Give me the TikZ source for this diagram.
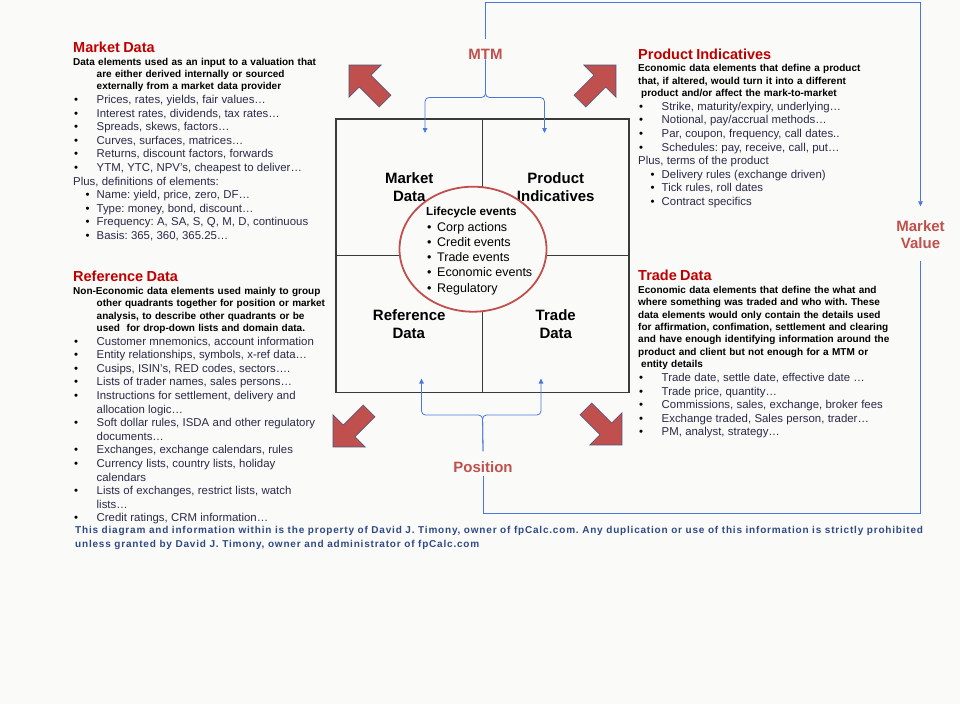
\documentclass[tikz,border=0pt]{standalone}
\usepackage{fontspec}
\setmainfont{Liberation Sans}
\usetikzlibrary{shapes.geometric,shapes.arrows,arrows.meta}

\definecolor{pagebg}{HTML}{FAFAF8}
\definecolor{headred}{HTML}{C00000}
\definecolor{softred}{HTML}{C0504D}
\definecolor{linkblue}{HTML}{4A78E0}
\definecolor{itemink}{HTML}{2A2A48}
\definecolor{noteblue}{HTML}{2E4A86}
\definecolor{gridgray}{HTML}{3A3A3A}
\definecolor{edgeblue}{HTML}{46557F}

\setlength{\parindent}{0pt}
\setlength{\parskip}{0pt}
\frenchspacing

% text helpers for the four side blocks
\newcommand{\blockhead}[1]{{\fontsize{14.5}{16}\selectfont\bfseries\color{headred}#1\par}}
\newcommand{\descfont}{\fontsize{10}{12.45}\selectfont\bfseries}
\newcommand{\itemfont}{\fontsize{11.4}{13.6}\selectfont}
\newcommand{\bitem}[1]{\par\hangindent=23.5pt\hangafter=1\leavevmode
  \makebox[23.5pt][l]{\hspace{1pt}\textbullet}{\color{itemink}#1}}
\newcommand{\sitem}[1]{\par\hangindent=23.5pt\hangafter=1\leavevmode
  \makebox[23.5pt][l]{\hspace{12.5pt}\textbullet}{\color{itemink}#1}}
\newcommand{\pline}[1]{\par\leavevmode{\color{itemink}#1}}
\newcommand{\eitem}[1]{\par\leavevmode\makebox[11pt][l]{\hspace{1pt}\textbullet}#1}

\begin{document}
\begin{tikzpicture}[x=1pt, y=-1pt, >={Triangle[length=5pt,width=4.5pt]},
    block/.style={anchor=north west, inner sep=0pt, text width=320pt, align=left},
    cell/.style={draw=gridgray, line width=1.4pt, minimum width=146.5pt,
      minimum height=136.75pt, inner sep=0pt, align=center,
      font=\fontsize{15}{18}\selectfont\bfseries},
    flow/.style={draw=linkblue, line width=0.8pt},
    tag/.style={inner sep=0pt, text=softred, align=center,
      font=\fontsize{15}{17}\selectfont\bfseries},
    fat/.style={single arrow, fill=softred, draw=edgeblue, line width=0.6pt,
      minimum height=51pt, inner xsep=0pt, inner ysep=8pt,
      single arrow head extend=14.5pt}]
  \fill[pagebg] (0,0) rectangle (960,704);

  % four quadrants and the lifecycle ring
  \node[cell] (md) at (409.25,187.4) {Market\\Data};
  \node[cell] (pi) at (555.75,187.4) {Product\\Indicatives};
  \node[cell] (rd) at (409.25,324.1) {Reference\\Data\hspace*{1pt}};
  \node[cell] (td) at (555.75,324.1) {Trade\\Data};
  \node[ellipse, draw=softred, line width=1.8pt, fill=pagebg, minimum width=147pt,
    minimum height=125pt, inner sep=0pt] (cycle) at (473,249.2) {};
  \node[anchor=north west, inner sep=0pt, align=left, text width=120pt] (events) at (426,206.5)
    {{\fontsize{11.7}{14}\selectfont\bfseries Lifecycle events\par}\vspace{1pt}
     {\fontsize{12.5}{15.2}\selectfont
      \eitem{Corp actions}\eitem{Credit events}\eitem{Trade events}
      \eitem{Economic events}\eitem{Regulatory}\par}};

  % big red arrows
  \node[fat, rotate=135] (aul) at (370,86) {};
  \node[fat, rotate=45] (aur) at (595,86) {};
  \node[fat, rotate=225] (all) at (354,426) {};
  \node[fat, rotate=-45] (alr) at (601,424) {};

  % side texts
  \node[block] (mdtext) at (73,41.3) {%
    \blockhead{Market Data}\vspace{0.6pt}
    {\descfont\hangindent=23.5pt\hangafter=1 Data elements used as an input to a valuation that\newline
      are either derived internally or sourced\newline
      externally from a market data provider\par}
    {\itemfont
    \bitem{Prices, rates, yields, fair values…}
    \bitem{Interest rates, dividends, tax rates…}
    \bitem{Spreads, skews, factors…}
    \bitem{Curves, surfaces, matrices…}
    \bitem{Returns, discount factors, forwards}
    \bitem{YTM, YTC, NPV’s, cheapest to deliver…}
    \pline{Plus, definitions of elements:}
    \sitem{Name: yield, price, zero, DF…}
    \sitem{Type: money, bond, discount…}
    \sitem{Frequency: A, SA, S, Q, M, D, continuous}
    \sitem{Basis: 365, 360, 365.25…}\par}};
  \node[block] (rdtext) at (73,271) {%
    \blockhead{Reference Data}
    {\descfont\hangindent=23.5pt\hangafter=1 Non-Economic data elements used mainly to group\newline
      other quadrants together for position or market\newline
      analysis, to describe other quadrants or be\newline
      used\ \ for drop-down lists and domain data.\par}
    {\itemfont
    \bitem{Customer mnemonics, account information}
    \bitem{Entity relationships, symbols, x-ref data…}
    \bitem{Cusips, ISIN’s, RED codes, sectors….}
    \bitem{Lists of trader names, sales persons…}
    \bitem{Instructions for settlement, delivery and\newline allocation logic…}
    \bitem{Soft dollar rules, ISDA and other regulatory\newline documents…}
    \bitem{Exchanges, exchange calendars, rules}
    \bitem{Currency lists, country lists, holiday\newline calendars}
    \bitem{Lists of exchanges, restrict lists, watch\newline lists…}
    \bitem{Credit ratings, CRM information…}\par}};
  \node[block] (pitext) at (638,48.3) {%
    \blockhead{Product Indicatives}\vspace{0.4pt}
    {\descfont Economic data elements that define a product\newline
      that, if altered, would turn it into a different\newline
      \hspace*{3pt}product and/or affect the mark-to-market\par}
    {\itemfont
    \bitem{Strike, maturity/expiry, underlying…}
    \bitem{Notional, pay/accrual methods…}
    \bitem{Par, coupon, frequency, call dates..}
    \bitem{Schedules: pay, receive, call, put…}
    \pline{Plus, terms of the product}
    \sitem{Delivery rules (exchange driven)}
    \sitem{Tick rules, roll dates}
    \sitem{Contract specifics}\par}};
  \node[block] (tdtext) at (638,270) {%
    \blockhead{Trade Data}
    {\descfont Economic data elements that define the what and\newline
      where something was traded and who with. These\newline
      data elements would only contain the details used\newline
      for affirmation, confimation, settlement and clearing\newline
      and have enough identifying information around the\newline
      product and client but not enough for a MTM or\newline
      \hspace*{3pt}entity details\par}
    {\itemfont
    \bitem{Trade date, settle date, effective date …}
    \bitem{Trade price, quantity…}
    \bitem{Commissions, sales, exchange, broker fees}
    \bitem{Exchange traded, Sales person, trader…}
    \bitem{PM, analyst, strategy…}\par}};

  % flow labels
  \node[tag] (mtm) at (485.5,54.2) {MTM};
  \node[tag] (pos) at (483,467) {Position};
  \node[tag] (mv) at (920.5,234.5) {Market\\Value};

  \coordinate (mtmJ) at (485.5,97.5);
  \coordinate (mdIn) at (425,133);
  \coordinate (piIn) at (544.5,133);
  \coordinate (topR) at (920.5,2);
  \coordinate (posJ) at (482.5,415);
  \coordinate (rdIn) at (421.5,378.5);
  \coordinate (tdIn) at (541,378.5);
  \coordinate (botR) at (920.5,513.5);

  % connectors
  \draw[flow, rounded corners=4pt, ->] (mtm.south) -- (mtmJ) -| (mdIn);
  \draw[flow, rounded corners=4pt, ->] (mtm.south) -- (mtmJ) -| (piIn);
  \draw[flow, ->] ([yshift=10pt]mtm.north) |- (topR) -- ([yshift=14pt]mv.north);
  \draw[flow] ([yshift=-3pt]pos.south) |- (botR) -- ([yshift=-12pt]mv.south);
  \draw[flow, rounded corners=4pt, ->] ([yshift=10pt]pos.north) -- (posJ) -| (rdIn);
  \draw[flow, rounded corners=4pt, ->] ([yshift=10pt]pos.north) -- (posJ) -| (tdIn);

  % notice
  \node[anchor=north west, inner sep=0pt, align=left, text=noteblue,
    font=\fontsize{10}{14}\selectfont\bfseries\addfontfeature{LetterSpace=8}] (notice) at (75,526)
    {This diagram and information within is the property of David J. Timony, owner of fpCalc.com. Any duplication or use of this information is strictly prohibited\\
     unless granted by David J. Timony, owner and administrator of fpCalc.com};
\end{tikzpicture}
\end{document}
